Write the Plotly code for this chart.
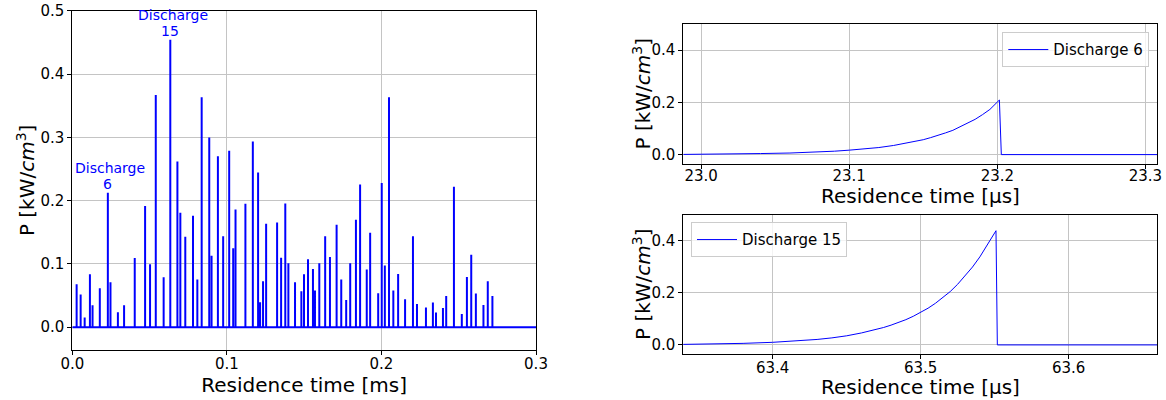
import plotly.graph_objects as go

# ---------------- data ----------------
# Left panel: discharge peak times [ms] and peak power [kW/cm^3] (discharges numbered from 0)
peak_time_ms = [0.0028, 0.0054, 0.0080, 0.0114, 0.0131, 0.0178, 0.0230, 0.0247, 0.0295, 0.0335,
                0.0404, 0.0471, 0.0503, 0.0540, 0.0591, 0.0634, 0.0680, 0.0699, 0.0731, 0.0781,
                0.0809, 0.0837, 0.0886, 0.0901, 0.0942, 0.0976, 0.1015, 0.1041, 0.1056, 0.1120,
                0.1168, 0.1202, 0.1215, 0.1234, 0.1254, 0.1325, 0.1351, 0.1378, 0.1398, 0.1441,
                0.1482, 0.1499, 0.1525, 0.1557, 0.1570, 0.1598, 0.1636, 0.1667, 0.1710, 0.1740,
                0.1772, 0.1798, 0.1835, 0.1862, 0.1905, 0.1927, 0.1979, 0.2002, 0.2022, 0.2049,
                0.2077, 0.2108, 0.2153, 0.2204, 0.2230, 0.2288, 0.2333, 0.2353, 0.2398, 0.2419,
                0.2469, 0.2520, 0.2553, 0.2581, 0.2611, 0.2660, 0.2688, 0.2718]
peak_power = [0.068, 0.0515, 0.0152, 0.0836, 0.0347, 0.0615, 0.2124, 0.071, 0.0237, 0.0347,
              0.1094, 0.1914, 0.0994, 0.367, 0.0789, 0.4543, 0.2618, 0.1809, 0.143, 0.176,
              0.0752, 0.3633, 0.2997, 0.113, 0.2702, 0.1435, 0.2787, 0.1246, 0.1861, 0.1951,
              0.2934, 0.2445, 0.0394, 0.0726, 0.1635, 0.1656, 0.1099, 0.1956, 0.1009, 0.071,
              0.0568, 0.0836, 0.1073, 0.092, 0.0578, 0.1009, 0.1435, 0.1109, 0.1619, 0.0752,
              0.0431, 0.1009, 0.1698, 0.2256, 0.091, 0.1493, 0.0536, 0.2277, 0.0973, 0.3633,
              0.0578, 0.0841, 0.0442, 0.1435, 0.0368, 0.031, 0.0389, 0.0231, 0.0305, 0.0494,
              0.2219, 0.021, 0.0794, 0.1146, 0.0531, 0.0352, 0.0726, 0.0494]
series_end_ms = 0.3
labelled_discharges = [6, 15]

# Discharge 6 (time in microseconds)
d6_time_us = [22.988, 23.00, 23.02, 23.04, 23.06, 23.07, 23.08, 23.09, 23.10, 23.11, 23.12,
              23.13, 23.14, 23.145, 23.15, 23.155, 23.16, 23.165, 23.17, 23.175, 23.18,
              23.185, 23.19, 23.195, 23.2014, 23.2027, 23.308]
d6_power = [0.0007, 0.001, 0.002, 0.004, 0.006, 0.008, 0.010, 0.013, 0.017, 0.021, 0.027,
            0.035, 0.045, 0.050, 0.057, 0.065, 0.073, 0.083, 0.093, 0.106, 0.119,
            0.135, 0.153, 0.173, 0.209, 0.0, 0.0]

# Discharge 15 (time in microseconds)
d15_time_us = [63.339, 63.36, 63.38, 63.40, 63.42, 63.43, 63.44, 63.45, 63.46, 63.47, 63.475,
               63.48, 63.485, 63.49, 63.495, 63.50, 63.505, 63.51, 63.515, 63.52, 63.525,
               63.53, 63.535, 63.54, 63.545, 63.5509, 63.5518, 63.66]
d15_power = [0.002, 0.003, 0.006, 0.010, 0.016, 0.021, 0.027, 0.035, 0.046, 0.059, 0.067,
             0.076, 0.086, 0.097, 0.110, 0.125, 0.141, 0.160, 0.181, 0.205, 0.233,
             0.264, 0.299, 0.338, 0.384, 0.4385, 0.0, 0.0]

# ---------------- build ----------------
BLUE = "#0000ff"
FONT = "DejaVu Sans"
GRID = "#c4c4c4"

xs, ys = [0.0], [0.0]
for t, v in zip(peak_time_ms, peak_power):
    xs += [t, t, t]
    ys += [0.0, v, 0.0]
xs.append(series_end_ms)
ys.append(0.0)

fig = go.Figure()
fig.add_trace(go.Scatter(x=xs, y=ys, mode="lines", line=dict(color=BLUE, width=2),
                         showlegend=False, xaxis="x", yaxis="y"))
fig.add_trace(go.Scatter(x=d6_time_us, y=d6_power, mode="lines", line=dict(color=BLUE, width=1),
                         name="Discharge 6", xaxis="x2", yaxis="y2", legend="legend"))
fig.add_trace(go.Scatter(x=d15_time_us, y=d15_power, mode="lines", line=dict(color=BLUE, width=1),
                         name="Discharge 15", xaxis="x3", yaxis="y3", legend="legend2"))

W, H = 1166, 400
def dx(a, b):
    return [a / W, b / W]
def dy(top, bottom):
    return [1 - bottom / H, 1 - top / H]

tickfont = dict(family=FONT, size=15, color="black")
titlefont = dict(family=FONT, size=20, color="black")
ytitle = "P [kW/<i>cm</i><sup>3</sup>]"
xtitle_us = "Residence time [μs]"

common = dict(showline=True, mirror=True, linecolor="black", linewidth=1,
              ticks="outside", ticklen=4, tickwidth=1, tickcolor="black",
              showgrid=True, gridcolor=GRID, gridwidth=1, zeroline=False,
              tickfont=tickfont, automargin=False)
xcommon = dict(common, ticklabelstandoff=-4)
xcommon_top = dict(common, ticklabelstandoff=-6)

legend_common = dict(bgcolor="rgba(255,255,255,0.8)", bordercolor="#cccccc", borderwidth=1,
                     itemwidth=40, font=dict(family=FONT, size=15, color="black"))

right_x = dx(683.3, 1157.3)
top_y = dy(24, 164)
bot_y = dy(214.7, 354.3)

fig.update_layout(
    width=W, height=H, margin=dict(l=0, r=0, t=0, b=0),
    paper_bgcolor="white", plot_bgcolor="white",
    font=dict(family=FONT, color="black"),
    xaxis=dict(domain=dx(72.3, 536), range=[0, 0.3], tickvals=[0, 0.1, 0.2, 0.3], tickformat=".1f",
               title=dict(text="Residence time [ms]", font=titlefont, standoff=2), anchor="y", **xcommon),
    yaxis=dict(domain=dy(10.7, 350), range=[-0.036, 0.5], tickvals=[0, 0.1, 0.2, 0.3, 0.4, 0.5],
               tickformat=".1f", title=dict(text=ytitle, font=titlefont, standoff=0), anchor="x", **common),
    xaxis2=dict(domain=right_x, range=[22.988, 23.308], tickvals=[23.0, 23.1, 23.2, 23.3],
                tickformat=".1f", anchor="y2", **xcommon_top),
    yaxis2=dict(domain=top_y, range=[-0.036, 0.5], tickvals=[0, 0.2, 0.4], tickformat=".1f",
                anchor="x2", **common),
    xaxis3=dict(domain=right_x, range=[63.3396, 63.6599], tickvals=[63.4, 63.5, 63.6],
                tickformat=".1f", anchor="y3", **xcommon),
    yaxis3=dict(domain=bot_y, range=[-0.036, 0.5], tickvals=[0, 0.2, 0.4], tickformat=".1f",
                anchor="x3", **common),
    legend=dict(x=1149.3 / W, y=1 - 32.3 / H, xanchor="right", yanchor="top", **legend_common),
    legend2=dict(x=691 / W, y=1 - 222.3 / H, xanchor="left", yanchor="top", **legend_common),
)

# axis titles of the right-hand panels
xc = (right_x[0] + right_x[1]) / 2
for ybot, xt_y in [(top_y, 196), (bot_y, 387)]:
    fig.add_annotation(x=xc, y=1 - xt_y / H, xref="paper", yref="paper", text=xtitle_us,
                       showarrow=False, xanchor="center", yanchor="middle", font=titlefont,
                       borderpad=0)
    fig.add_annotation(x=641.5 / W, y=(ybot[0] + ybot[1]) / 2, xref="paper", yref="paper",
                       text=ytitle, textangle=-90, showarrow=False, xanchor="center",
                       yanchor="middle", font=titlefont)

for num in labelled_discharges:
    t = peak_time_ms[num]
    v = peak_power[num]
    fig.add_annotation(x=t, y=v, xref="x", yref="y", text=str(num), showarrow=False,
                       yanchor="bottom", xanchor="center", yshift=-1,
                       font=dict(family=FONT, size=14, color=BLUE))
    fig.add_annotation(x=t, y=v, xref="x", yref="y", text="Discharge", showarrow=False,
                       yanchor="bottom", xanchor="center", yshift=15, xshift=2.5,
                       font=dict(family=FONT, size=14, color=BLUE))

fig.write_html("out.html")
